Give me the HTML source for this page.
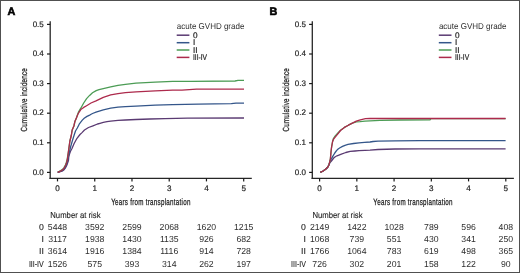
<!DOCTYPE html>
<html><head><meta charset="utf-8"><style>
html,body{margin:0;padding:0;background:#fff;}
body{width:520px;height:273px;overflow:hidden;}
svg{display:block;font-family:"Liberation Sans", sans-serif;text-rendering:geometricPrecision;}
.t{filter:grayscale(1);}
</style></head><body>
<svg width="520" height="273" viewBox="0 0 520 273">
<rect x="0" y="0" width="520" height="273" fill="#fff"/>
<line x1="50.20" y1="21.3" x2="50.20" y2="178.9" stroke="#262626" stroke-width="1.3"/>
<line x1="49.50" y1="178.3" x2="251.80" y2="178.3" stroke="#262626" stroke-width="1.3"/>
<line x1="47.00" y1="172.40" x2="50.20" y2="172.40" stroke="#1a1a1a" stroke-width="1.2"/>
<line x1="47.00" y1="142.80" x2="50.20" y2="142.80" stroke="#1a1a1a" stroke-width="1.2"/>
<line x1="47.00" y1="113.20" x2="50.20" y2="113.20" stroke="#1a1a1a" stroke-width="1.2"/>
<line x1="47.00" y1="83.60" x2="50.20" y2="83.60" stroke="#1a1a1a" stroke-width="1.2"/>
<line x1="47.00" y1="54.00" x2="50.20" y2="54.00" stroke="#1a1a1a" stroke-width="1.2"/>
<line x1="47.00" y1="24.40" x2="50.20" y2="24.40" stroke="#1a1a1a" stroke-width="1.2"/>
<line x1="57.50" y1="178.3" x2="57.50" y2="181.4" stroke="#1a1a1a" stroke-width="1.2"/>
<line x1="94.74" y1="178.3" x2="94.74" y2="181.4" stroke="#1a1a1a" stroke-width="1.2"/>
<line x1="131.98" y1="178.3" x2="131.98" y2="181.4" stroke="#1a1a1a" stroke-width="1.2"/>
<line x1="169.22" y1="178.3" x2="169.22" y2="181.4" stroke="#1a1a1a" stroke-width="1.2"/>
<line x1="206.46" y1="178.3" x2="206.46" y2="181.4" stroke="#1a1a1a" stroke-width="1.2"/>
<line x1="243.70" y1="178.3" x2="243.70" y2="181.4" stroke="#1a1a1a" stroke-width="1.2"/>
<line x1="176.70" y1="35.20" x2="189.40" y2="35.20" stroke="#5a3a72" stroke-width="1.5"/>
<line x1="176.70" y1="42.70" x2="189.40" y2="42.70" stroke="#34568a" stroke-width="1.5"/>
<line x1="176.70" y1="50.00" x2="189.40" y2="50.00" stroke="#4c9c55" stroke-width="1.5"/>
<line x1="176.70" y1="57.40" x2="189.40" y2="57.40" stroke="#ad2a4c" stroke-width="1.5"/>
<polyline points="57.70,172.30 62.00,171.10 63.90,169.90 65.30,168.10 66.70,165.50 67.70,162.70 68.50,160.30 68.75,157.07 69.50,154.00 70.50,151.30 72.00,148.50 74.00,143.80 75.50,141.00 77.00,138.30 80.00,134.50 82.00,132.60 84.50,130.00 88.50,127.50 93.00,125.80 97.50,124.00 100.00,123.30 103.30,122.30 107.00,121.60 110.70,121.10 118.00,120.40 125.40,120.00 136.00,119.50 150.00,119.00 165.00,118.60 187.50,118.10 244.00,118.00" fill="none" stroke="#5a3a72" stroke-width="1.3" stroke-linejoin="round"/>
<polyline points="57.70,172.30 61.50,170.95 63.40,169.75 64.80,167.95 66.20,165.35 67.20,162.55 67.80,160.15 68.40,155.50 69.40,152.00 70.70,146.50 72.30,141.00 74.00,135.50 75.50,131.00 77.30,128.00 79.20,124.20 82.30,120.10 84.20,118.30 87.00,116.40 90.20,114.80 92.50,113.50 96.00,112.20 98.40,111.30 103.30,109.80 110.70,108.20 118.00,107.10 125.40,106.60 136.00,106.10 155.20,105.10 172.70,104.60 198.30,104.10 231.30,103.70 236.00,103.20 244.00,103.20" fill="none" stroke="#34568a" stroke-width="1.3" stroke-linejoin="round"/>
<polyline points="57.70,172.30 60.70,170.60 62.60,169.40 64.00,167.60 65.40,165.00 66.40,162.20 67.14,159.32 68.30,152.50 69.20,146.00 69.90,141.00 71.30,135.50 72.20,130.00 73.90,126.00 75.00,121.20 76.50,117.70 77.60,114.50 78.60,111.80 80.80,108.20 83.70,103.00 86.60,98.60 89.60,95.40 92.50,92.80 96.20,90.60 99.00,89.60 103.30,88.60 110.70,86.80 118.00,85.30 125.40,84.40 136.00,83.10 155.20,82.20 172.70,81.30 191.00,81.30 235.00,81.00 238.00,80.40 244.00,80.40" fill="none" stroke="#4c9c55" stroke-width="1.3" stroke-linejoin="round"/>
<polyline points="57.70,172.30 61.00,170.80 62.90,169.60 64.30,167.80 65.70,165.20 66.70,162.40 67.40,159.50 68.30,152.50 69.20,146.00 69.90,141.00 71.30,135.50 72.20,130.00 73.90,126.00 75.00,121.20 76.50,117.70 77.80,114.50 79.00,112.30 80.80,109.60 83.70,107.40 86.60,105.70 91.00,103.00 96.00,100.90 103.30,97.30 110.70,94.90 118.00,93.60 125.40,92.70 136.00,91.80 155.20,90.80 172.70,90.20 182.00,90.20 196.50,89.10 244.00,89.10" fill="none" stroke="#ad2a4c" stroke-width="1.3" stroke-linejoin="round"/>
<line x1="312.30" y1="21.3" x2="312.30" y2="178.9" stroke="#262626" stroke-width="1.3"/>
<line x1="311.60" y1="178.3" x2="513.90" y2="178.3" stroke="#262626" stroke-width="1.3"/>
<line x1="309.10" y1="172.40" x2="312.30" y2="172.40" stroke="#1a1a1a" stroke-width="1.2"/>
<line x1="309.10" y1="142.80" x2="312.30" y2="142.80" stroke="#1a1a1a" stroke-width="1.2"/>
<line x1="309.10" y1="113.20" x2="312.30" y2="113.20" stroke="#1a1a1a" stroke-width="1.2"/>
<line x1="309.10" y1="83.60" x2="312.30" y2="83.60" stroke="#1a1a1a" stroke-width="1.2"/>
<line x1="309.10" y1="54.00" x2="312.30" y2="54.00" stroke="#1a1a1a" stroke-width="1.2"/>
<line x1="309.10" y1="24.40" x2="312.30" y2="24.40" stroke="#1a1a1a" stroke-width="1.2"/>
<line x1="319.60" y1="178.3" x2="319.60" y2="181.4" stroke="#1a1a1a" stroke-width="1.2"/>
<line x1="356.84" y1="178.3" x2="356.84" y2="181.4" stroke="#1a1a1a" stroke-width="1.2"/>
<line x1="394.08" y1="178.3" x2="394.08" y2="181.4" stroke="#1a1a1a" stroke-width="1.2"/>
<line x1="431.32" y1="178.3" x2="431.32" y2="181.4" stroke="#1a1a1a" stroke-width="1.2"/>
<line x1="468.56" y1="178.3" x2="468.56" y2="181.4" stroke="#1a1a1a" stroke-width="1.2"/>
<line x1="505.80" y1="178.3" x2="505.80" y2="181.4" stroke="#1a1a1a" stroke-width="1.2"/>
<line x1="438.80" y1="35.20" x2="451.50" y2="35.20" stroke="#5a3a72" stroke-width="1.5"/>
<line x1="438.80" y1="42.70" x2="451.50" y2="42.70" stroke="#34568a" stroke-width="1.5"/>
<line x1="438.80" y1="50.00" x2="451.50" y2="50.00" stroke="#4c9c55" stroke-width="1.5"/>
<line x1="438.80" y1="57.40" x2="451.50" y2="57.40" stroke="#ad2a4c" stroke-width="1.5"/>
<polyline points="320.30,172.40 323.10,171.00 325.60,169.30 327.70,167.20 329.00,164.70 330.00,162.50 331.00,161.50 332.20,160.00 333.70,158.00 335.30,156.70 337.00,155.80 341.40,154.20 345.80,152.50 350.20,151.40 355.00,151.00 359.00,150.70 365.00,150.30 370.00,150.10 378.00,149.50 395.00,149.00 420.00,148.80 505.60,148.80" fill="none" stroke="#5a3a72" stroke-width="1.3" stroke-linejoin="round"/>
<polyline points="320.30,172.40 323.10,171.00 325.60,169.30 327.70,167.20 329.00,164.70 329.80,162.00 330.50,160.20 331.50,158.60 332.60,156.60 334.80,153.00 336.50,150.60 338.10,149.00 340.00,147.80 342.50,146.40 345.00,145.30 348.00,144.40 353.50,143.50 359.00,142.80 364.50,142.40 370.00,142.00 373.10,141.50 378.00,141.20 395.00,140.80 420.00,140.60 505.60,140.60" fill="none" stroke="#34568a" stroke-width="1.3" stroke-linejoin="round"/>
<polyline points="320.30,172.40 323.10,171.00 325.60,169.30 327.70,167.20 329.00,164.70 329.80,161.70 330.40,158.80 331.00,152.00 331.60,147.00 332.60,141.50 333.40,138.50 335.20,135.90 337.90,133.00 340.50,130.30 344.40,127.40 348.40,125.20 352.40,123.20 356.30,121.80 360.00,121.60 365.00,121.20 370.00,120.90 380.00,120.30 400.00,120.00 430.00,119.80 431.00,118.60 505.60,118.60" fill="none" stroke="#4c9c55" stroke-width="1.3" stroke-linejoin="round"/>
<polyline points="320.30,172.40 323.10,171.00 325.60,169.30 327.70,167.20 329.00,164.70 329.80,161.70 330.40,158.80 331.00,152.00 331.60,147.00 332.60,141.50 333.60,139.20 335.20,137.10 337.90,133.80 340.50,130.50 344.40,127.40 348.40,125.20 352.40,123.20 356.30,121.20 360.30,119.90 365.50,118.70 370.00,118.50 505.60,118.50" fill="none" stroke="#ad2a4c" stroke-width="1.3" stroke-linejoin="round"/>
<g class="t">
<text x="7.40" y="14.5" font-size="10.8" font-weight="bold" fill="#000" stroke="#000" stroke-width="0.6">A</text>
<text x="43.80" y="174.60" font-size="8" text-anchor="end" fill="#1e1e1e" stroke="#1e1e1e" stroke-width="0.2">0.0</text>
<text x="43.80" y="145.00" font-size="8" text-anchor="end" fill="#1e1e1e" stroke="#1e1e1e" stroke-width="0.2">0.1</text>
<text x="43.80" y="115.40" font-size="8" text-anchor="end" fill="#1e1e1e" stroke="#1e1e1e" stroke-width="0.2">0.2</text>
<text x="43.80" y="85.80" font-size="8" text-anchor="end" fill="#1e1e1e" stroke="#1e1e1e" stroke-width="0.2">0.3</text>
<text x="43.80" y="56.20" font-size="8" text-anchor="end" fill="#1e1e1e" stroke="#1e1e1e" stroke-width="0.2">0.4</text>
<text x="43.80" y="26.60" font-size="8" text-anchor="end" fill="#1e1e1e" stroke="#1e1e1e" stroke-width="0.2">0.5</text>
<text x="57.50" y="191.2" font-size="8.1" text-anchor="middle" fill="#1e1e1e" stroke="#1e1e1e" stroke-width="0.2">0</text>
<text x="94.74" y="191.2" font-size="8.1" text-anchor="middle" fill="#1e1e1e" stroke="#1e1e1e" stroke-width="0.2">1</text>
<text x="131.98" y="191.2" font-size="8.1" text-anchor="middle" fill="#1e1e1e" stroke="#1e1e1e" stroke-width="0.2">2</text>
<text x="169.22" y="191.2" font-size="8.1" text-anchor="middle" fill="#1e1e1e" stroke="#1e1e1e" stroke-width="0.2">3</text>
<text x="206.46" y="191.2" font-size="8.1" text-anchor="middle" fill="#1e1e1e" stroke="#1e1e1e" stroke-width="0.2">4</text>
<text x="243.70" y="191.2" font-size="8.1" text-anchor="middle" fill="#1e1e1e" stroke="#1e1e1e" stroke-width="0.2">5</text>
<text transform="translate(111.20,204.6) scale(0.68,1)" x="0" y="0" font-size="9.2" textLength="116.47" lengthAdjust="spacing" fill="#1a1a1a" stroke="#1a1a1a" stroke-width="0.25">Years from transplantation</text>
<text transform="translate(27.00,131.5) rotate(-90) scale(0.70,1)" x="0" y="0" font-size="8.9" textLength="90.29" lengthAdjust="spacing" fill="#1a1a1a" stroke="#1a1a1a" stroke-width="0.25">Cumulative incidence</text>
<text x="176.80" y="28.6" font-size="8.5" textLength="67.6" lengthAdjust="spacingAndGlyphs" fill="#2e2e2e">acute GVHD grade</text>
<text x="192.90" y="37.70" font-size="8.2" fill="#1e1e1e" stroke="#1e1e1e" stroke-width="0.2">0</text>
<text x="192.90" y="45.20" font-size="8.2" fill="#1e1e1e" stroke="#1e1e1e" stroke-width="0.2">I</text>
<text x="192.90" y="52.50" font-size="8.2" fill="#1e1e1e" stroke="#1e1e1e" stroke-width="0.2">II</text>
<text x="192.90" y="59.90" font-size="8.2" textLength="14.2" lengthAdjust="spacingAndGlyphs" fill="#1e1e1e" stroke="#1e1e1e" stroke-width="0.2">III-IV</text>
<text x="50.30" y="217.6" font-size="8.6" textLength="50.2" lengthAdjust="spacingAndGlyphs" fill="#1e1e1e" stroke="#1e1e1e" stroke-width="0.12">Number at risk</text>
<text x="43.80" y="229.80" font-size="8.7" text-anchor="end" fill="#1a1a1a" stroke="#1a1a1a" stroke-width="0.1">0</text>
<text x="57.50" y="229.80" font-size="8.7" text-anchor="middle" fill="#2e2e2e">5448</text>
<text x="94.74" y="229.80" font-size="8.7" text-anchor="middle" fill="#2e2e2e">3592</text>
<text x="131.98" y="229.80" font-size="8.7" text-anchor="middle" fill="#2e2e2e">2599</text>
<text x="169.22" y="229.80" font-size="8.7" text-anchor="middle" fill="#2e2e2e">2068</text>
<text x="206.46" y="229.80" font-size="8.7" text-anchor="middle" fill="#2e2e2e">1620</text>
<text x="243.70" y="229.80" font-size="8.7" text-anchor="middle" fill="#2e2e2e">1215</text>
<text x="43.80" y="242.00" font-size="8.7" text-anchor="end" fill="#1a1a1a" stroke="#1a1a1a" stroke-width="0.1">I</text>
<text x="57.50" y="242.00" font-size="8.7" text-anchor="middle" fill="#2e2e2e">3117</text>
<text x="94.74" y="242.00" font-size="8.7" text-anchor="middle" fill="#2e2e2e">1938</text>
<text x="131.98" y="242.00" font-size="8.7" text-anchor="middle" fill="#2e2e2e">1430</text>
<text x="169.22" y="242.00" font-size="8.7" text-anchor="middle" fill="#2e2e2e">1135</text>
<text x="206.46" y="242.00" font-size="8.7" text-anchor="middle" fill="#2e2e2e">926</text>
<text x="243.70" y="242.00" font-size="8.7" text-anchor="middle" fill="#2e2e2e">682</text>
<text x="43.80" y="254.20" font-size="8.7" text-anchor="end" fill="#1a1a1a" stroke="#1a1a1a" stroke-width="0.1">II</text>
<text x="57.50" y="254.20" font-size="8.7" text-anchor="middle" fill="#2e2e2e">3614</text>
<text x="94.74" y="254.20" font-size="8.7" text-anchor="middle" fill="#2e2e2e">1916</text>
<text x="131.98" y="254.20" font-size="8.7" text-anchor="middle" fill="#2e2e2e">1384</text>
<text x="169.22" y="254.20" font-size="8.7" text-anchor="middle" fill="#2e2e2e">1116</text>
<text x="206.46" y="254.20" font-size="8.7" text-anchor="middle" fill="#2e2e2e">914</text>
<text x="243.70" y="254.20" font-size="8.7" text-anchor="middle" fill="#2e2e2e">728</text>
<text x="28.90" y="266.60" font-size="8.7" text-anchor="start" textLength="14.9" lengthAdjust="spacingAndGlyphs" fill="#1a1a1a" stroke="#1a1a1a" stroke-width="0.1">III-IV</text>
<text x="57.50" y="266.60" font-size="8.7" text-anchor="middle" fill="#2e2e2e">1526</text>
<text x="94.74" y="266.60" font-size="8.7" text-anchor="middle" fill="#2e2e2e">575</text>
<text x="131.98" y="266.60" font-size="8.7" text-anchor="middle" fill="#2e2e2e">393</text>
<text x="169.22" y="266.60" font-size="8.7" text-anchor="middle" fill="#2e2e2e">314</text>
<text x="206.46" y="266.60" font-size="8.7" text-anchor="middle" fill="#2e2e2e">262</text>
<text x="243.70" y="266.60" font-size="8.7" text-anchor="middle" fill="#2e2e2e">197</text>
<text x="269.50" y="14.5" font-size="10.8" font-weight="bold" fill="#000" stroke="#000" stroke-width="0.6">B</text>
<text x="305.90" y="174.60" font-size="8" text-anchor="end" fill="#1e1e1e" stroke="#1e1e1e" stroke-width="0.2">0.0</text>
<text x="305.90" y="145.00" font-size="8" text-anchor="end" fill="#1e1e1e" stroke="#1e1e1e" stroke-width="0.2">0.1</text>
<text x="305.90" y="115.40" font-size="8" text-anchor="end" fill="#1e1e1e" stroke="#1e1e1e" stroke-width="0.2">0.2</text>
<text x="305.90" y="85.80" font-size="8" text-anchor="end" fill="#1e1e1e" stroke="#1e1e1e" stroke-width="0.2">0.3</text>
<text x="305.90" y="56.20" font-size="8" text-anchor="end" fill="#1e1e1e" stroke="#1e1e1e" stroke-width="0.2">0.4</text>
<text x="305.90" y="26.60" font-size="8" text-anchor="end" fill="#1e1e1e" stroke="#1e1e1e" stroke-width="0.2">0.5</text>
<text x="319.60" y="191.2" font-size="8.1" text-anchor="middle" fill="#1e1e1e" stroke="#1e1e1e" stroke-width="0.2">0</text>
<text x="356.84" y="191.2" font-size="8.1" text-anchor="middle" fill="#1e1e1e" stroke="#1e1e1e" stroke-width="0.2">1</text>
<text x="394.08" y="191.2" font-size="8.1" text-anchor="middle" fill="#1e1e1e" stroke="#1e1e1e" stroke-width="0.2">2</text>
<text x="431.32" y="191.2" font-size="8.1" text-anchor="middle" fill="#1e1e1e" stroke="#1e1e1e" stroke-width="0.2">3</text>
<text x="468.56" y="191.2" font-size="8.1" text-anchor="middle" fill="#1e1e1e" stroke="#1e1e1e" stroke-width="0.2">4</text>
<text x="505.80" y="191.2" font-size="8.1" text-anchor="middle" fill="#1e1e1e" stroke="#1e1e1e" stroke-width="0.2">5</text>
<text transform="translate(373.30,204.6) scale(0.68,1)" x="0" y="0" font-size="9.2" textLength="116.47" lengthAdjust="spacing" fill="#1a1a1a" stroke="#1a1a1a" stroke-width="0.25">Years from transplantation</text>
<text transform="translate(289.10,131.5) rotate(-90) scale(0.70,1)" x="0" y="0" font-size="8.9" textLength="90.29" lengthAdjust="spacing" fill="#1a1a1a" stroke="#1a1a1a" stroke-width="0.25">Cumulative incidence</text>
<text x="438.90" y="28.6" font-size="8.5" textLength="67.6" lengthAdjust="spacingAndGlyphs" fill="#2e2e2e">acute GVHD grade</text>
<text x="455.00" y="37.70" font-size="8.2" fill="#1e1e1e" stroke="#1e1e1e" stroke-width="0.2">0</text>
<text x="455.00" y="45.20" font-size="8.2" fill="#1e1e1e" stroke="#1e1e1e" stroke-width="0.2">I</text>
<text x="455.00" y="52.50" font-size="8.2" fill="#1e1e1e" stroke="#1e1e1e" stroke-width="0.2">II</text>
<text x="455.00" y="59.90" font-size="8.2" textLength="14.2" lengthAdjust="spacingAndGlyphs" fill="#1e1e1e" stroke="#1e1e1e" stroke-width="0.2">III-IV</text>
<text x="312.40" y="217.6" font-size="8.6" textLength="50.2" lengthAdjust="spacingAndGlyphs" fill="#1e1e1e" stroke="#1e1e1e" stroke-width="0.12">Number at risk</text>
<text x="305.90" y="229.80" font-size="8.7" text-anchor="end" fill="#1a1a1a" stroke="#1a1a1a" stroke-width="0.1">0</text>
<text x="319.60" y="229.80" font-size="8.7" text-anchor="middle" fill="#2e2e2e">2149</text>
<text x="356.84" y="229.80" font-size="8.7" text-anchor="middle" fill="#2e2e2e">1422</text>
<text x="394.08" y="229.80" font-size="8.7" text-anchor="middle" fill="#2e2e2e">1028</text>
<text x="431.32" y="229.80" font-size="8.7" text-anchor="middle" fill="#2e2e2e">789</text>
<text x="468.56" y="229.80" font-size="8.7" text-anchor="middle" fill="#2e2e2e">596</text>
<text x="505.80" y="229.80" font-size="8.7" text-anchor="middle" fill="#2e2e2e">408</text>
<text x="305.90" y="242.00" font-size="8.7" text-anchor="end" fill="#1a1a1a" stroke="#1a1a1a" stroke-width="0.1">I</text>
<text x="319.60" y="242.00" font-size="8.7" text-anchor="middle" fill="#2e2e2e">1068</text>
<text x="356.84" y="242.00" font-size="8.7" text-anchor="middle" fill="#2e2e2e">739</text>
<text x="394.08" y="242.00" font-size="8.7" text-anchor="middle" fill="#2e2e2e">551</text>
<text x="431.32" y="242.00" font-size="8.7" text-anchor="middle" fill="#2e2e2e">430</text>
<text x="468.56" y="242.00" font-size="8.7" text-anchor="middle" fill="#2e2e2e">341</text>
<text x="505.80" y="242.00" font-size="8.7" text-anchor="middle" fill="#2e2e2e">250</text>
<text x="305.90" y="254.20" font-size="8.7" text-anchor="end" fill="#1a1a1a" stroke="#1a1a1a" stroke-width="0.1">II</text>
<text x="319.60" y="254.20" font-size="8.7" text-anchor="middle" fill="#2e2e2e">1766</text>
<text x="356.84" y="254.20" font-size="8.7" text-anchor="middle" fill="#2e2e2e">1064</text>
<text x="394.08" y="254.20" font-size="8.7" text-anchor="middle" fill="#2e2e2e">783</text>
<text x="431.32" y="254.20" font-size="8.7" text-anchor="middle" fill="#2e2e2e">619</text>
<text x="468.56" y="254.20" font-size="8.7" text-anchor="middle" fill="#2e2e2e">498</text>
<text x="505.80" y="254.20" font-size="8.7" text-anchor="middle" fill="#2e2e2e">365</text>
<text x="291.00" y="266.60" font-size="8.7" text-anchor="start" textLength="14.9" lengthAdjust="spacingAndGlyphs" fill="#1a1a1a" stroke="#1a1a1a" stroke-width="0.1">III-IV</text>
<text x="319.60" y="266.60" font-size="8.7" text-anchor="middle" fill="#2e2e2e">726</text>
<text x="356.84" y="266.60" font-size="8.7" text-anchor="middle" fill="#2e2e2e">302</text>
<text x="394.08" y="266.60" font-size="8.7" text-anchor="middle" fill="#2e2e2e">201</text>
<text x="431.32" y="266.60" font-size="8.7" text-anchor="middle" fill="#2e2e2e">158</text>
<text x="468.56" y="266.60" font-size="8.7" text-anchor="middle" fill="#2e2e2e">122</text>
<text x="505.80" y="266.60" font-size="8.7" text-anchor="middle" fill="#2e2e2e">90</text>
</g>
<rect x="0.5" y="0.5" width="519" height="272" fill="none" stroke="#505050" stroke-width="1"/>
</svg>
</body></html>
